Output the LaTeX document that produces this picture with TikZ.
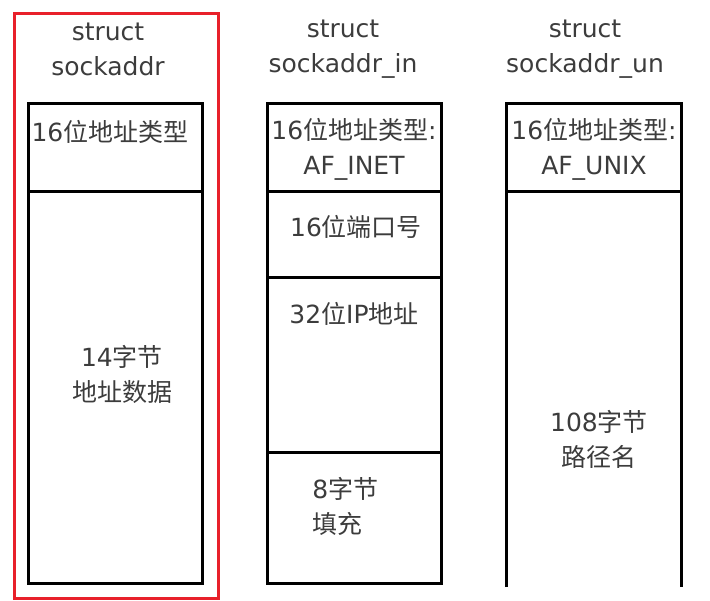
\documentclass[tikz,border=0pt]{standalone}
\usepackage{fontspec}
\setmainfont{DejaVu Sans}
\newfontfamily\cjk{Noto Sans CJK SC}
\newcommand{\zh}[1]{{\cjk #1}}
\definecolor{txtgray}{RGB}{60,60,60}
\definecolor{markred}{RGB}{232,32,42}

\begin{document}
\begin{tikzpicture}[x=0.5pt, y=-0.5pt,
    field/.style={draw, line width=1.5pt},
    lbl/.style={text=txtgray, align=center, inner sep=0pt,
        font=\fontsize{12.5}{17.5}\selectfont}]
    \useasboundingbox (0,0) rectangle (710,600);

    % Titles
    \node[lbl] (t1) at (108,49) {struct\\sockaddr};
    \node[lbl] (t2) at (343,49) {struct\\sockaddr\_in};
    \node[lbl] (t3) at (585,49) {struct\\sockaddr\_un};

    % Boxes
    \draw[field] (28,103) rectangle (202,583);
    \draw[field] (28,191) -- (202,191);

    \draw[field] (267,103) rectangle (441,583);
    \foreach \y in {191,277,452} {
        \draw[field] (267,\y) -- (441,\y);
    }

    \draw[field] (506,587) -- (506,103) -- (681,103) -- (681,587);
    \draw[field] (506,191) -- (681,191);

    % Fields
    \node[lbl] (h1) at (110,132) {16\zh{位地址类型}};
    \node[lbl] (d1) at (122,374) {14\zh{字节}\\\zh{地址数据}};

    \node[lbl] (h2) at (354,149) {16\zh{位地址类型}:\\AF\_INET};
    \node[lbl] (port) at (356,227) {16\zh{位端口号}};
    \node[lbl] (ip) at (354,314) {32\zh{位}IP\zh{地址}};
    \node[lbl, anchor=west, align=left] (pad) at (312,506) {8\zh{字节}\\\zh{填充}};

    \node[lbl] (h3) at (594,149) {16\zh{位地址类型}:\\AF\_UNIX};
    \node[lbl] (path) at (599,439) {108\zh{字节}\\\zh{路径名}};

    % Highlight
    \draw[markred, line width=1.5pt] (14,13) rectangle (218,598);
\end{tikzpicture}
\end{document}
